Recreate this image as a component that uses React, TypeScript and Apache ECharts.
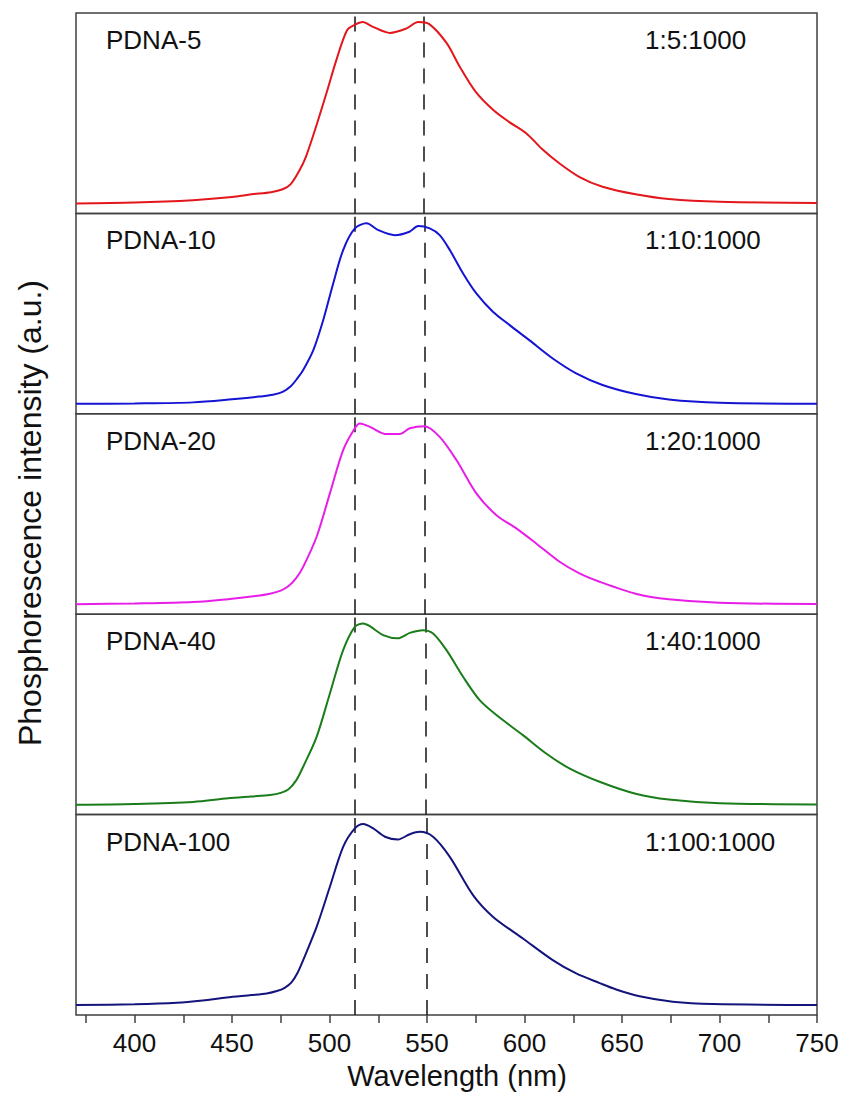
import React, { useEffect, useRef } from "react";
import * as echarts from "echarts";

// ---- data (normalized phosphorescence intensity vs wavelength, nm) ----
const pdna5: [number, number][] = [[370,0.0],[400,0.005],[430,0.018],[450,0.035],[460,0.05],[470,0.062],[476,0.078],[480,0.105],[484.5,0.18],[488,0.26],[493,0.42],[498.5,0.61],[503.5,0.79],[509,0.955],[513,0.985],[517,1.0],[522,0.975],[531,0.94],[539.5,0.965],[545.5,1.0],[551,0.99],[560,0.885],[567,0.75],[575,0.615],[584,0.515],[592,0.45],[601,0.386],[609,0.30],[618,0.22],[628,0.147],[640,0.092],[657,0.05],[674,0.024],[700,0.009],[750,0.003]];
const pdna10: [number, number][] = [[370,0],[400,0.002],[430,0.008],[450,0.025],[464,0.04],[471,0.05],[476,0.066],[480,0.095],[483.5,0.14],[486.5,0.186],[491.7,0.296],[496.8,0.462],[501.9,0.664],[507,0.848],[513,0.967],[519,0.995],[525,0.958],[533.5,0.93],[541,0.949],[545.5,0.98],[551.4,0.967],[556.5,0.93],[561.7,0.848],[568.5,0.719],[575.3,0.609],[583.8,0.508],[592.4,0.434],[602.6,0.35],[614.5,0.25],[626.5,0.168],[640,0.104],[657,0.054],[674,0.024],[700,0.006],[750,0.0]];
const pdna20: [number, number][] = [[370,0],[400,0.004],[430,0.012],[450,0.03],[462,0.045],[469.5,0.058],[475,0.075],[479,0.1],[483,0.145],[486.5,0.206],[493.4,0.372],[500.2,0.611],[507,0.85],[513,0.97],[515.6,0.997],[520.7,0.978],[529.2,0.938],[536,0.938],[541.2,0.97],[548.8,0.982],[556.5,0.923],[565.1,0.795],[575.3,0.611],[585.6,0.491],[595.8,0.418],[606,0.335],[618,0.234],[628.2,0.17],[638.5,0.124],[657,0.058],[674,0.027],[700,0.008],[750,0.001]];
const pdna40: [number, number][] = [[370,0],[400,0.004],[430,0.015],[448,0.035],[460,0.045],[469.5,0.053],[475,0.065],[479,0.085],[483,0.135],[486.5,0.209],[493.4,0.374],[500.2,0.613],[507,0.852],[513,0.98],[517.3,0.999],[520.7,0.984],[527.5,0.935],[535.1,0.917],[541.2,0.947],[548,0.962],[553.1,0.944],[560,0.852],[568.5,0.705],[577,0.576],[585.6,0.494],[599.2,0.383],[611.1,0.282],[623,0.2],[638.5,0.126],[657,0.06],[674,0.028],[700,0.008],[750,0.001]];
const pdna100: [number, number][] = [[370,0],[400,0.004],[421.7,0.012],[435,0.025],[447.3,0.042],[460,0.055],[467.8,0.064],[473,0.077],[477,0.095],[480.5,0.125],[483.5,0.175],[486.5,0.248],[493.4,0.431],[500.2,0.652],[507,0.872],[513,0.974],[517.3,0.998],[522.4,0.974],[528.4,0.928],[535.1,0.913],[541.2,0.942],[546.3,0.955],[553.1,0.928],[561.7,0.817],[573.6,0.606],[583.9,0.486],[599.2,0.367],[614.5,0.248],[626.5,0.174],[638.5,0.121],[647,0.086],[659,0.048],[676,0.018],[696.5,0.005],[750,0]];

const seriesData = [pdna5, pdna10, pdna20, pdna40, pdna100];
const sampleNames = ["PDNA-5", "PDNA-10", "PDNA-20", "PDNA-40", "PDNA-100"];
const ratioLabels = ["1:5:1000", "1:10:1000", "1:20:1000", "1:40:1000", "1:100:1000"];
const lineColors = ["#e3161b", "#1414d2", "#e81ee8", "#1a7d1a", "#14147d"];
const dashLeft = [513, 513, 513, 513, 513];
const dashRight = [548.3, 548.7, 549.1, 549.5, 549.9];
const majorTicks = [400, 450, 500, 550, 600, 650, 700, 750];
const allTicks = [375, 400, 425, 450, 475, 500, 525, 550, 575, 600, 625, 650, 675, 700, 725, 750];

const FONT = "'Liberation Sans', Arial, sans-serif";

export default function App() {
  const ref = useRef<HTMLDivElement>(null);
  useEffect(() => {
    if (!ref.current) return;
    const chart = echarts.init(ref.current, undefined, { renderer: "svg" });
    const left = 76;
    const right = 847 - 817;
    const top0 = 13;
    const h = 200.4;
    const n = seriesData.length;

    const grids = seriesData.map((_, i) => ({
      left,
      right,
      top: top0 + i * h,
      height: h,
      show: true,
      borderColor: "#404040",
      borderWidth: 1.5,
      backgroundColor: "transparent",
    }));

    const xAxes = seriesData.map((_, i) => {
      const last = i === n - 1;
      return {
        type: "value",
        gridIndex: i,
        min: 370,
        max: 750,
        position: "bottom",
        axisLine: { show: false, onZero: false },
        splitLine: { show: false },
        axisTick: {
          show: last,
          inside: false,
          length: 8,
          customValues: allTicks,
          lineStyle: { color: "#404040", width: 1.5 },
        },
        axisLabel: {
          show: last,
          customValues: majorTicks,
          fontSize: 26,
          fontFamily: FONT,
          color: "#111",
          margin: 15,
        },
      };
    });

    const yAxes = seriesData.map((_, i) => ({
      type: "value",
      gridIndex: i,
      min: -0.055,
      max: 1.05,
      show: false,
    }));

    const series = seriesData.map((d, i) => ({
      type: "line",
      xAxisIndex: i,
      yAxisIndex: i,
      data: d,
      showSymbol: false,
      smooth: 0.3,
      lineStyle: { color: lineColors[i], width: 2 },
      z: 3,
      markLine: {
        silent: true,
        symbol: "none",
        label: { show: false },
        lineStyle: { type: [15, 11], color: "#222", width: 1.6 },
        data: [{ xAxis: dashLeft[i] }, { xAxis: dashRight[i] }],
        z: 2,
      },
    }));

    const graphics: any[] = [];
    seriesData.forEach((_, i) => {
      const cy = top0 + i * h + 27;
      graphics.push({
        type: "text",
        x: 106,
        y: cy,
        style: { text: sampleNames[i], fontSize: 26, fontFamily: FONT, fill: "#111", verticalAlign: "middle" },
      });
      graphics.push({
        type: "text",
        x: 645,
        y: cy,
        style: { text: ratioLabels[i], fontSize: 26, fontFamily: FONT, fill: "#111", verticalAlign: "middle" },
      });
    });
    graphics.push({
      type: "text",
      x: 457,
      y: 1076,
      style: {
        text: "Wavelength (nm)",
        fontSize: 29,
        fontFamily: FONT,
        fill: "#111",
        align: "center",
        verticalAlign: "middle",
      },
    });
    graphics.push({
      type: "text",
      x: 30,
      y: 513,
      rotation: Math.PI / 2,
      style: {
        text: "Phosphorescence intensity (a.u.)",
        fontSize: 32,
        fontFamily: FONT,
        fill: "#111",
        align: "center",
        verticalAlign: "middle",
      },
    });

    chart.setOption({
      animation: false,
      backgroundColor: "#fff",
      grid: grids,
      xAxis: xAxes,
      yAxis: yAxes,
      series,
      graphic: graphics,
    });
    return () => chart.dispose();
  }, []);
  return (
    <div
      ref={ref}
      style={{ position: "fixed", left: 0, top: 0, width: 847, height: 1095 }}
    />
  );
}
